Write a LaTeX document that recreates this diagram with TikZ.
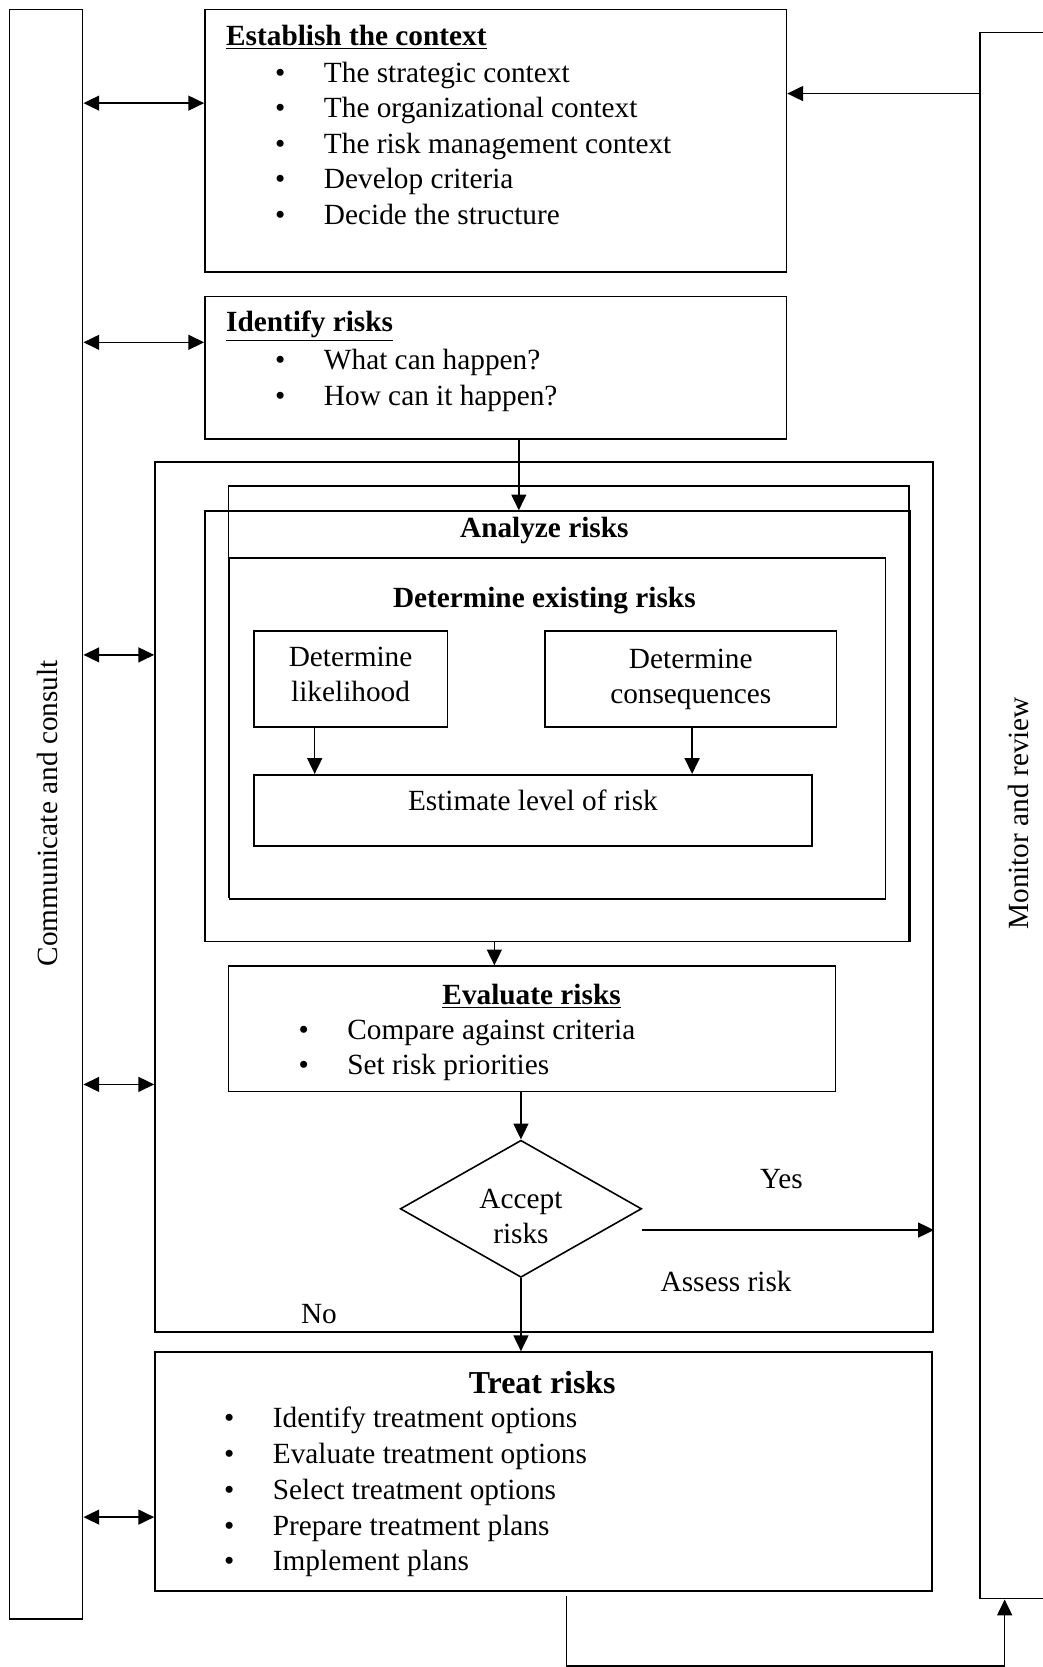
\documentclass[tikz,border=0pt]{standalone}
\usepackage{fontspec}
\setmainfont{Liberation Serif}
\usetikzlibrary{arrows.meta,shapes.geometric}
\newlength{\pxu}
\setlength{\pxu}{0.0213cm}
\newcommand{\bodyfont}{\fontsize{16.7}{20}\selectfont}
\newcommand{\itm}[1]{\llap{\textbullet\hspace{22pt}}#1}

\begin{document}
\begin{tikzpicture}[x=\pxu, y=-\pxu, line width=0.9pt, font=\bodyfont,
    rect/.style={draw, rectangle, anchor=north west, inner sep=0pt, align=center},
    txt/.style={anchor=west, inner sep=0pt, text height=11.5pt, text depth=0pt},
    ttl/.style={anchor=west, inner sep=0pt, font=\bodyfont\bfseries},
    ttlc/.style={inner sep=0pt, font=\bodyfont\bfseries},
    dec/.style={draw, diamond, aspect=1.76, minimum width=227\pxu, minimum height=129\pxu, inner sep=0pt, align=center},
    arr/.style={-{Triangle[length=9pt,width=8.5pt]}},
    dbl/.style={{Triangle[length=9pt,width=8.5pt]}-{Triangle[length=9pt,width=8.5pt]}}]
    \useasboundingbox (0,0) rectangle (981,1568);

    % Side bars
    \node[rect, minimum width=69\pxu, minimum height=1514\pxu] (comm) at (8,8) {};
    \node[rotate=90] (comm-t) at (45,765) {Communicate and consult};
    \node[rect, minimum width=74\pxu, minimum height=1473\pxu] (mon) at (921,30) {};
    \node[rotate=90] (mon-t) at (958,765) {Monitor and review};

    % Establish the context
    \node[rect, minimum width=547\pxu, minimum height=247\pxu] (est) at (192,8) {};
    \node[ttl] (est-t) at (212,35) {\underline{Establish the context}};
    \node[txt] (est-1) at (304,68) {\itm{The strategic context}};
    \node[txt] (est-2) at (304,101) {\itm{The organizational context}};
    \node[txt] (est-3) at (304,135) {\itm{The risk management context}};
    \node[txt] (est-4) at (304,168) {\itm{Develop criteria}};
    \node[txt] (est-5) at (304,202) {\itm{Decide the structure}};

    % Identify risks
    \node[rect, minimum width=547\pxu, minimum height=134\pxu] (ident) at (192,278) {};
    \node[ttl] (ident-t) at (212,307) {\underline{Identify risks}};
    \node[txt] (ident-1) at (304,338) {\itm{What can happen?}};
    \node[txt] (ident-2) at (304,372) {\itm{How can it happen?}};

    % Assess risk frame
    \node[rect, minimum width=732\pxu, minimum height=818\pxu] (assess) at (145,434) {};
    \draw (215,845) -- (215,457) -- (855,457) -- (855,885);
    \node[rect, minimum width=663\pxu, minimum height=405\pxu] (anaB) at (192,480) {};
    \node[ttlc] (ana-t) at (512,499) {Analyze risks};
    \node[rect, minimum width=617\pxu, minimum height=321\pxu] (exist) at (215,524) {};
    \node[ttlc] (exist-t) at (512,565) {Determine existing risks};
    \node[rect, minimum width=182\pxu, minimum height=90\pxu, text depth=5.5pt] (like) at (238,593) {Determine\\likelihood};
    \node[rect, minimum width=274\pxu, minimum height=90\pxu] (cons) at (512,593) {Determine\\consequences};
    \node[rect, minimum width=525\pxu, minimum height=67\pxu, text depth=12pt] (level) at (238,728) {Estimate level of risk};

    % Evaluate risks
    \node[rect, minimum width=571\pxu, minimum height=118\pxu] (eval) at (214,908) {};
    \node[ttlc] (eval-t) at (500,937) {\underline{Evaluate risks}};
    \node[txt] (eval-1) at (326,968) {\itm{Compare against criteria}};
    \node[txt] (eval-2) at (326,1001) {\itm{Set risk priorities}};

    % Decision
    \node[dec, text height=40pt] (acc) at (490,1137) {Accept\\risks};
    \node (yes) at (735,1109) {Yes};
    \node (ass-t) at (683,1205) {Assess risk};
    \node (no) at (300,1236) {No};

    % Treat risks
    \node[rect, minimum width=731\pxu, minimum height=225\pxu] (treat) at (145,1271) {};
    \node[ttlc, font=\fontsize{18.2}{22}\selectfont\bfseries] (treat-t) at (510,1300) {Treat risks};
    \node[txt] (treat-1) at (256,1333) {\itm{Identify treatment options}};
    \node[txt] (treat-2) at (256,1367) {\itm{Evaluate treatment options}};
    \node[txt] (treat-3) at (256,1401) {\itm{Select treatment options}};
    \node[txt] (treat-4) at (256,1435) {\itm{Prepare treatment plans}};
    \node[txt] (treat-5) at (256,1468) {\itm{Implement plans}};

    % Connectors
    \draw[dbl] (comm.east |- 0,97) -- (est.west |- 0,97);
    \draw[dbl] (comm.east |- 0,322) -- (ident.west |- 0,322);
    \draw[dbl] (comm.east |- 0,616) -- (assess.west |- 0,616);
    \draw[dbl] (comm.east |- 0,1020) -- (assess.west |- 0,1020);
    \draw[dbl] (comm.east |- 0,1427) -- (treat.west |- 0,1427);
    \draw[arr] (mon.west |- 0,88) -- (est.east |- 0,88);
    \draw[arr] (ident.south -| 488,0) -- (anaB.north -| 488,0);
    \draw[arr] (like.south -| 296,0) -- (level.north -| 296,0);
    \draw[arr] (cons.south -| 651,0) -- (level.north -| 651,0);
    \draw[arr] (anaB.south -| 465,0) -- (eval.north -| 465,0);
    \draw[arr] (acc.north |- eval.south) -- (acc.north);
    \draw[arr] (acc.east |- 0,1157) -- (assess.east |- 0,1157);
    \draw[arr] (acc.south) -- (treat.north -| acc.south);
    \coordinate (loop) at (945,1567);
    \draw[arr] ([yshift=-4\pxu]treat.south -| 533,0) |- (loop) -- (mon.south -| loop);
\end{tikzpicture}
\end{document}
